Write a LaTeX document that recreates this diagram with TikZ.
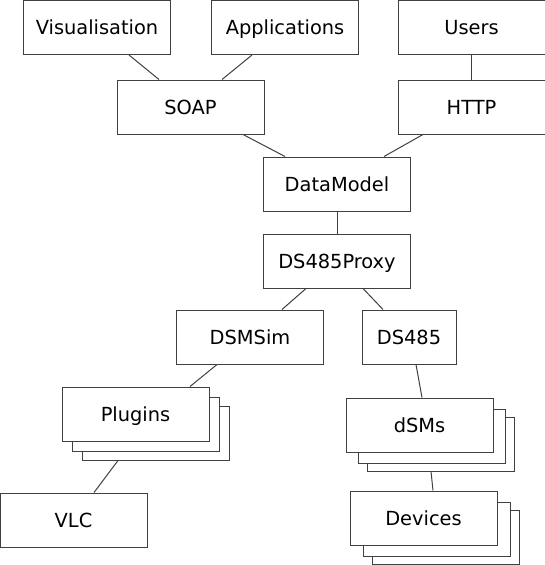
\documentclass[tikz,border=0pt]{standalone}
\usepackage{fontspec}
\setmainfont{DejaVu Sans}
\usetikzlibrary{calc}

\tikzset{
  box/.style={draw=black!75, line width=1pt, fill=white,
    minimum width=147pt, minimum height=54pt, inner sep=0pt,
    text height=14pt, text depth=0pt, font=\fontsize{19.4}{23}\selectfont},
  link/.style={draw=black!75, line width=1pt}
}

\begin{document}
\begin{tikzpicture}[x=1pt, y=-1pt]
			\useasboundingbox (0,0) rectangle (545,565);
			
			% top row
			\node[box] (vis) at (97,27.5) {Visualisation};
			\node[box] (app) at (285,27.5) {Applications};
			\node[box] (users) at (471.5,27.5) {Users};
			
			\node[box] (soap) at (190.5,107) {SOAP};
			\node[box] (http) at (471.5,107) {HTTP};
			
			\node[box] (dm) at (337,184) {DataModel};
			\node[box] (proxy) at (337,261) {DS485Proxy};
			
			\node[box] (dsmsim) at (250,337) {DSMSim};
			\node[box, minimum width=94pt] (ds485) at (409,337) {DS485};
			
			% stacked boxes, back layers first
			\foreach \dx/\dy/\n in {20/19/3, 10/10/2}
				\node[box] (plugins\n) at ({135.5+\dx},{414+\dy}) {};
			\node[box] (plugins) at (135.5,414) {Plugins};
			
			\foreach \dx/\dy/\n in {21/19/3, 12/11/2}
				\node[box] (dsms\n) at ({419.5+\dx},{425+\dy}) {};
			\node[box] (dsms) at (419.5,425) {dSMs};
			
			\foreach \dx/\dy/\n in {22/19/3, 13/11/2}
				\node[box] (devices\n) at ({423.5+\dx},{518+\dy}) {};
			\node[box] (devices) at (423.5,518) {Devices};
			
			\node[box] (vlc) at (73.5,520) {VLC};
			
			% connectors
			\draw[link] ([xshift=32pt]vis.south) -- ([xshift=-31.5pt]soap.north);
			\draw[link] ([xshift=-33pt]app.south) -- ([xshift=31.5pt]soap.north);
			\draw[link] (users.south) -- (http.north);
			\draw[link] ([xshift=52.5pt]soap.south) -- ([xshift=-52pt]dm.north);
			\draw[link] ([xshift=-48.5pt]http.south) -- ([xshift=47pt]dm.north);
			\draw[link] (dm.south) -- (proxy.north);
			\draw[link] ([xshift=-31pt]proxy.south) -- ([xshift=32pt]dsmsim.north);
			\draw[link] ([xshift=26pt]proxy.south) -- ([xshift=-26pt]ds485.north);
			\draw[link] ([xshift=-33pt]dsmsim.south) -- ([xshift=54.5pt]plugins.north);
			\draw[link] ([xshift=7pt]ds485.south) -- ([xshift=2.5pt]dsms.north);
			\draw[link] ([xshift=-37.5pt]plugins3.south) -- ([xshift=20.5pt]vlc.north);
			\draw[link] ([xshift=-9.5pt]dsms3.south) -- ([xshift=9.5pt]devices.north);
\end{tikzpicture}
\end{document}
